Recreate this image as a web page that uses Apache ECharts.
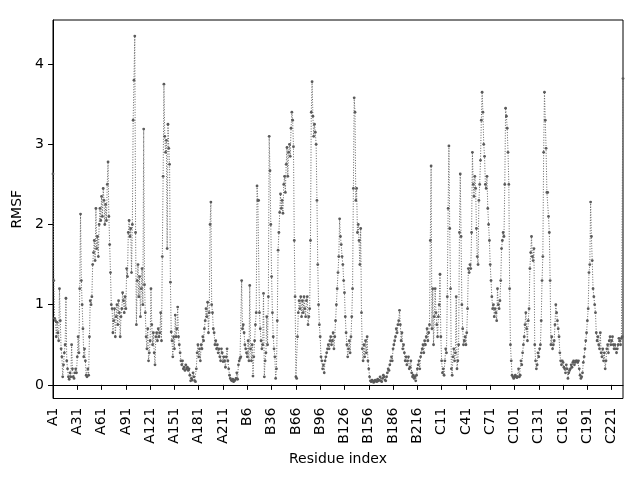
<!DOCTYPE html>
<html>
<head>
<meta charset="utf-8">
<script src="https://cdn.jsdelivr.net/npm/echarts@6.0.0/dist/echarts.min.js"></script>
<style>html,body{margin:0;padding:0;background:#fff;}#c{width:640px;height:480px;}</style>
</head>
<body>
<div id="c"></div>
<script>
// RMSF per residue, chains A, B, C (235 residues each)
var chainIds = ['A', 'B', 'C'];
var chainA = [
2.63,1.3,0.83,0.8,0.6,0.78,0.65,0.55,1.2,0.8,
0.45,0.35,0.1,0.25,0.4,0.5,1.08,0.3,0.2,0.1,
0.07,0.15,0.1,0.5,0.2,0.1,0.08,0.15,0.2,0.15,
0.35,0.6,0.4,1.2,2.13,1.3,1.0,0.7,0.35,0.45,
0.3,0.12,0.1,0.2,0.12,0.6,1.05,1.0,1.1,1.5,
1.65,1.8,1.55,2.2,1.7,1.85,1.6,2.0,2.2,2.05,
2.35,2.1,2.45,2.3,2.0,2.25,2.05,2.5,2.78,2.1,
1.75,1.4,1.0,0.95,0.65,0.8,0.95,0.6,0.85,1.0,
0.75,1.05,0.9,0.6,0.85,0.95,1.15,1.05,0.9,1.1,
0.95,1.45,1.35,1.9,2.05,1.85,1.95,1.4,2.0,3.3,
3.8,4.35,1.9,0.75,1.3,1.5,1.1,1.35,0.85,1.2,
1.45,1.0,3.19,1.25,0.9,0.6,0.45,0.7,0.3,0.4,
0.55,1.2,0.75,0.5,0.65,0.4,0.25,0.6,0.65,0.55,
0.7,0.6,0.65,0.9,0.55,1.6,2.6,3.75,3.1,2.9,
3.05,1.7,3.25,2.95,2.75,1.28,0.66,0.55,0.35,0.6,
0.45,0.87,0.6,0.7,0.97,0.6,0.5,0.4,0.3,0.25,
0.3,0.2,0.22,0.18,0.25,0.2,0.22,0.18,0.2,0.12,
0.05,0.08,0.06,0.15,0.1,0.05,0.04,0.2,0.4,0.5,
0.35,0.45,0.3,0.5,0.45,0.6,0.55,0.7,0.8,0.95,
0.85,1.03,0.65,0.9,2.0,2.28,1.0,0.9,0.7,0.65,
0.5,0.55,0.45,0.5,0.4,0.45,0.35,0.3,0.45,0.4,
0.29,0.35,0.3,0.22,0.35,0.45,0.3,0.2,0.12,0.08,
0.06,0.05,0.07,0.04,0.05,0.06,0.08,0.15,0.07,0.25,
0.3,0.33,0.35,1.3,0.7
];
var chainB = [
0.75,0.65,0.5,0.45,0.4,0.35,0.55,0.3,1.24,0.45,
0.3,0.5,0.11,0.35,0.55,0.75,0.9,2.48,2.3,2.3,
0.9,0.7,0.55,0.45,0.5,1.14,0.1,0.3,0.4,0.85,
0.5,1.1,3.1,2.67,2.0,1.35,0.9,0.6,0.45,0.35,
0.08,0.2,0.8,1.68,1.9,2.15,2.38,2.2,2.3,2.14,
2.5,2.6,2.4,2.75,2.96,2.6,2.9,3.0,2.85,3.2,
3.4,3.3,2.97,1.8,1.1,0.1,0.08,0.6,0.9,1.05,
0.95,1.1,0.85,1.05,0.9,1.1,0.95,0.85,1.05,1.1,
0.75,0.85,0.95,1.8,3.4,3.78,3.35,3.1,3.25,3.15,
3.0,2.3,1.5,1.0,0.75,0.6,0.35,0.3,0.2,0.25,
0.15,0.3,0.35,0.4,0.45,0.5,0.45,0.55,0.6,0.5,
0.55,0.65,0.45,0.6,0.8,1.0,1.2,1.4,1.6,2.07,
1.85,1.75,1.6,1.5,1.3,1.15,0.85,0.65,0.5,0.35,
0.45,0.55,0.4,0.6,0.85,1.2,2.45,3.58,3.4,2.3,
2.45,1.9,2.0,1.8,1.5,1.95,0.9,0.45,0.3,0.5,
0.35,0.55,0.4,0.6,0.3,0.2,0.1,0.05,0.04,0.06,
0.05,0.03,0.04,0.06,0.05,0.04,0.07,0.05,0.06,0.1,
0.05,0.04,0.08,0.12,0.1,0.06,0.05,0.1,0.15,0.2,
0.18,0.25,0.3,0.35,0.3,0.45,0.5,0.55,0.6,0.7,
0.65,0.75,0.8,0.93,0.75,0.55,0.65,0.45,0.5,0.4,
0.3,0.35,0.25,0.3,0.35,0.2,0.22,0.3,0.15,0.1,
0.12,0.08,0.1,0.05,0.12,0.2,0.25,0.3,0.2,0.35,
0.4,0.45,0.5,0.4,0.55,0.5,0.6,0.7,0.55,0.65,
0.75,1.8,2.73,0.7,1.2
];
var chainC = [
0.5,0.85,1.2,0.9,0.75,0.6,0.85,1.0,1.38,0.6,
0.3,0.15,0.2,0.12,0.3,0.45,0.4,1.1,2.2,2.98,
1.95,1.2,0.2,0.12,0.35,0.45,0.3,0.4,1.1,0.2,
0.3,0.5,1.9,2.63,1.85,1.0,0.7,0.5,0.55,0.6,
0.5,0.65,0.95,1.45,1.4,1.5,1.45,1.9,2.9,2.5,
2.35,2.6,2.45,1.95,1.6,1.5,2.3,2.5,2.8,3.3,
3.65,3.4,3.0,2.85,2.5,2.45,2.6,2.2,2.0,1.8,
1.5,1.3,1.1,0.95,1.0,0.85,0.95,0.9,0.8,1.2,
1.0,0.95,1.05,1.3,1.7,1.8,1.9,1.85,2.5,3.45,
3.35,3.2,2.9,2.5,1.2,0.5,0.3,0.12,0.1,0.08,
0.1,0.12,0.1,0.09,0.1,0.2,0.1,0.12,0.3,0.25,
0.4,0.5,0.6,0.75,0.9,0.7,0.55,0.8,0.95,1.45,
1.65,1.85,1.6,1.55,1.7,0.5,0.3,0.2,0.25,0.4,
0.35,0.45,0.5,0.8,1.3,1.6,2.9,3.65,3.3,2.95,
2.4,2.4,2.1,1.9,1.3,0.5,0.6,0.45,0.5,0.55,
0.75,1.0,0.9,0.8,0.7,0.6,0.4,0.3,0.25,0.3,
0.28,0.22,0.2,0.15,0.25,0.2,0.08,0.15,0.18,0.2,
0.25,0.22,0.28,0.3,0.25,0.28,0.3,0.3,0.28,0.3,
0.2,0.12,0.08,0.1,0.15,0.28,0.35,0.45,0.55,0.65,
0.8,0.95,1.4,1.5,2.28,1.85,1.55,1.2,1.1,1.0,
0.9,0.65,0.55,0.6,0.5,0.45,0.65,0.4,0.35,0.45,
0.3,0.4,0.2,0.3,0.45,0.5,0.4,0.55,0.6,0.5,
0.55,0.6,0.5,0.45,0.5,0.45,0.4,0.45,0.5,0.58,
0.55,0.5,0.58,0.6,3.82
];
var yTickValues = [0, 1, 2, 3, 4];

var chains = [chainA, chainB, chainC];
var categories = [];
var values = [];
chains.forEach(function (arr, k) {
  arr.forEach(function (v, j) {
    categories.push(chainIds[k] + (j + 1));
    values.push(v);
  });
});

var FONT = 'DejaVu Sans';
var chart = echarts.init(document.getElementById('c'), null, {renderer: 'canvas'});
chart.setOption({
  animation: false,
  backgroundColor: '#ffffff',
  grid: {
    left: 53, right: 17, top: 20, bottom: 81.5,
    show: true, borderColor: '#000', borderWidth: 1,
    containLabel: false, outerBoundsMode: 'none'
  },
  xAxis: {
    type: 'category',
    data: categories,
    boundaryGap: false,
    name: 'Residue index',
    nameLocation: 'middle',
    nameGap: 51,
    nameTextStyle: {fontFamily: FONT, fontSize: 14, color: '#000'},
    axisLine: {show: true, lineStyle: {color: '#000', width: 1}},
    axisTick: {show: true, interval: 29, length: 5, lineStyle: {color: '#000', width: 1}},
    axisLabel: {interval: 29, rotate: 90, margin: 9, fontFamily: FONT, fontSize: 14, color: '#000'},
    splitLine: {show: false}
  },
  yAxis: {
    type: 'value',
    min: -0.17,
    max: 4.55,
    name: 'RMSF',
    nameLocation: 'middle',
    nameGap: 23,
    nameTextStyle: {fontFamily: FONT, fontSize: 14, color: '#000'},
    axisLine: {show: true, lineStyle: {color: '#000', width: 1}},
    axisTick: {show: true, length: 5, customValues: yTickValues, lineStyle: {color: '#000', width: 1}},
    axisLabel: {margin: 9, customValues: yTickValues, fontFamily: FONT, fontSize: 14, color: '#000'},
    splitLine: {show: false}
  },
  series: [{
    type: 'line',
    data: values,
    showAllSymbol: true,
    symbol: 'circle',
    symbolSize: 2.8,
    itemStyle: {color: '#5a5a5a'},
    lineStyle: {color: '#666666', width: 1, type: [1, 1.6]},
    emphasis: {disabled: true},
    silent: true
  }]
});
</script>
</body>
</html>
